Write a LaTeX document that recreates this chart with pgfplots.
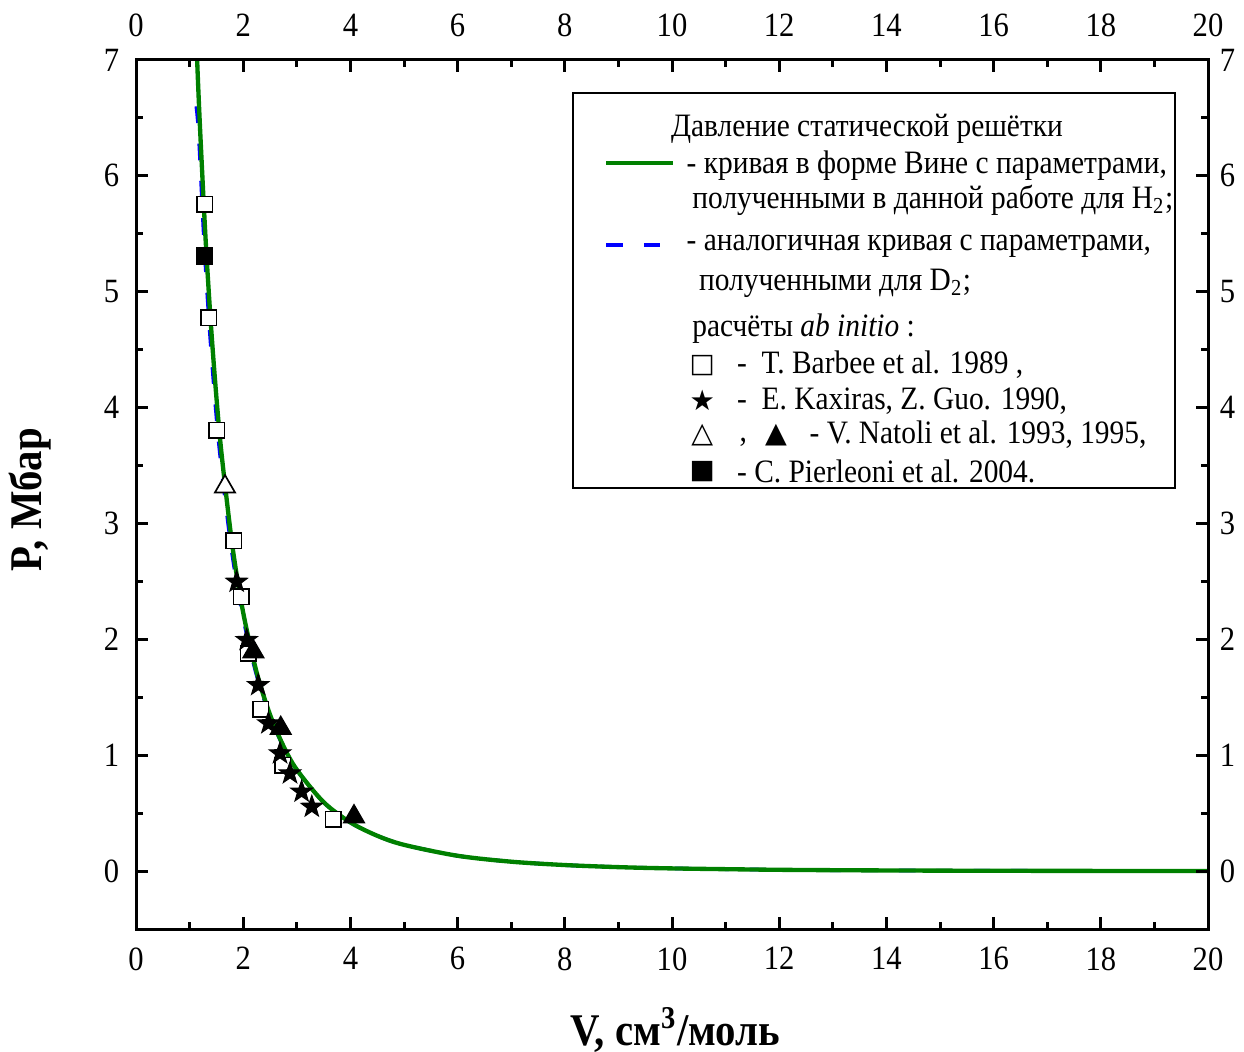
\documentclass[border=0pt]{standalone}
\usepackage{pgfplots}
\pgfplotsset{compat=1.18}
\usepackage{fontspec}
\setmainfont{Liberation Serif}[FakeStretch=0.9]
\newfontfamily\symfont{DejaVu Sans}
\definecolor{vgreen}{RGB}{0,128,0}

\pgfdeclareplotmark{fstar}{%
  \pgfpathmoveto{\pgfqpointpolar{90}{\pgfplotmarksize}}%
  \pgfpathlineto{\pgfqpointpolar{126}{0.40\pgfplotmarksize}}%
  \pgfpathlineto{\pgfqpointpolar{162}{\pgfplotmarksize}}%
  \pgfpathlineto{\pgfqpointpolar{198}{0.40\pgfplotmarksize}}%
  \pgfpathlineto{\pgfqpointpolar{234}{\pgfplotmarksize}}%
  \pgfpathlineto{\pgfqpointpolar{270}{0.40\pgfplotmarksize}}%
  \pgfpathlineto{\pgfqpointpolar{306}{\pgfplotmarksize}}%
  \pgfpathlineto{\pgfqpointpolar{342}{0.40\pgfplotmarksize}}%
  \pgfpathlineto{\pgfqpointpolar{18}{\pgfplotmarksize}}%
  \pgfpathlineto{\pgfqpointpolar{54}{0.40\pgfplotmarksize}}%
  \pgfpathclose
  \pgfusepathqfillstroke
}

\pgfplotstableread{
V P
1.10 7.50
1.15 6.89
1.20 6.36
1.30 5.44
1.40 4.70
1.50 4.09
1.60 3.585
1.80 2.80
2.00 2.23
2.25 1.717
2.50 1.350
2.75 1.080
3.00 0.875
3.50 0.595
4.00 0.420
4.50 0.305
5.00 0.2265
6.00 0.132
7.00 0.081
8.00 0.052
9.00 0.034
10.0 0.023
12.0 0.011
14.0 0.0054
16.0 0.0027
18.0 0.0013
20.0 0.0005
}\greencurve

\pgfplotstableread{
V P
1.125 6.60
1.17 6.36
1.27 5.44
1.37 4.70
1.47 4.09
1.57 3.585
1.775 2.80
1.98 2.23
2.235 1.717
2.49 1.35
2.745 1.08
3.00 0.873
3.50 0.594
4.00 0.419
4.50 0.305
5.00 0.2265
6.00 0.132
7.00 0.081
8.00 0.052
9.00 0.034
10.0 0.023
12.0 0.011
14.0 0.0054
16.0 0.0027
18.0 0.0013
20.0 0.0005
}\bluecurve

\pgfplotstableread{
V P
1.287 5.757
1.356 4.776
1.511 3.806
1.828 2.851
1.959 2.368
2.095 1.879
2.326 1.398
2.737 0.915
3.681 0.449
}\barbee

\pgfplotstableread{
V P
1.878 2.497
2.065 1.994
2.280 1.605
2.470 1.275
2.687 1.016
2.873 0.843
3.090 0.685
3.280 0.555
}\kaxiras

\pgfplotstableread{
V P
1.660 3.317
}\natolia

\pgfplotstableread{
V P
2.190 1.893
2.700 1.232
4.067 0.469
}\natolib

\pgfplotstableread{
V P
1.275 5.308
}\pierleoni

\begin{document}
\begin{tikzpicture}
\pgfplotsset{
  myframe/.style={
    scale only axis, width=321.6pt, height=260.7pt,
    xmin=0, xmax=20, ymin=-0.5, ymax=7,
    xtick={0,2,...,20}, ytick={0,1,...,7},
    minor x tick num=1, minor y tick num=1,
    tick align=inside,
    major tick length=3.6pt, minor tick length=2pt,
    every tick/.style={black, line width=0.9pt},
    axis line style={line width=0.9pt},
    tick label style={font=\fontsize{10.2}{12}\selectfont},
    /pgf/number format/assume math mode=true,
  }
}
\begin{axis}[myframe,
  xticklabel style={yshift=-2pt},
  yticklabel style={xshift=-1.5pt},
  xlabel={\bfseries V, см\textsuperscript{3}/моль},
  ylabel={\bfseries P, Мбар},
  xlabel style={font=\fontsize{13.6}{15}\selectfont, at={(axis description cs:0.503,-0.1162)}, anchor=center},
  ylabel style={font=\fontsize{13.6}{15}\selectfont, at={(axis description cs:-0.0989,0.494)}, anchor=center, rotate=0},
]
\coordinate (BL) at (rel axis cs:0,0);
\coordinate (TR) at (rel axis cs:1,1);

\addplot[blue, line width=1.1pt, dash pattern=on 5pt off 6.2pt, smooth, no marks] table[x=V,y=P] {\bluecurve};
\addplot[vgreen, line width=1.3pt, smooth, no marks] table[x=V,y=P] {\greencurve};

\addplot[only marks, mark=square*, mark size=2.3pt, mark options={fill=white, draw=black, line width=0.5pt}] table[x=V,y=P] {\barbee};
\addplot[only marks, mark=fstar, mark size=3.4pt, mark options={fill=black, draw=black, line width=0.3pt}] table[x=V,y=P] {\kaxiras};
\addplot[only marks, mark=triangle*, mark size=3.5pt, mark options={fill=white, draw=black, line width=0.5pt}] table[x=V,y=P] {\natolia};
\addplot[only marks, mark=triangle*, mark size=3.6pt, mark options={fill=black, draw=black}] table[x=V,y=P] {\natolib};
\addplot[only marks, mark=square*, mark size=2.4pt, mark options={fill=black, draw=black}] table[x=V,y=P] {\pierleoni};

% legend box
\draw[line width=0.5pt, fill=white] (axis cs:8.15,3.306) rectangle (axis cs:19.38,6.715);
\begin{scope}[every node/.style={font=\fontsize{9.8}{11}\selectfont, inner sep=0pt}]
\node[anchor=west] at (axis cs:9.970,6.410) {Давление статической решётки};
\node[anchor=west] at (axis cs:8.765,6.113) {\textcolor{vgreen}{\rule{19.9pt}{1.3pt}}};
\node[anchor=west] at (axis cs:10.261,6.085) {- кривая в форме Вине с параметрами,};
\node[anchor=west] at (axis cs:10.369,5.792) {полученными в данной работе для H\textsubscript{2};};
\node[anchor=west] at (axis cs:8.765,5.403) {\textcolor{blue}{\rule{5pt}{1.3pt}\hspace{6.2pt}\rule{5pt}{1.3pt}}};
\node[anchor=west] at (axis cs:10.261,5.388) {- аналогичная кривая с параметрами,};
\node[anchor=west] at (axis cs:10.493,5.072) {полученными для D\textsubscript{2};};
\node[anchor=west] at (axis cs:10.369,4.684) {расчёты \textit{ab initio} :};
\node at (axis cs:10.565,4.367) {\symfont\fontsize{8}{9}\selectfont □};
\node[anchor=west] at (axis cs:11.203,4.367) {-\ \ T. Barbee et al. 1989 ,};
\node at (axis cs:10.565,4.059) {\symfont\fontsize{8.5}{9}\selectfont ★};
\node[anchor=west] at (axis cs:11.203,4.059) {-\ \ E. Kaxiras, Z. Guo. 1990,};
\node at (axis cs:10.565,3.763) {\symfont\fontsize{8.5}{9}\selectfont △};
\node[anchor=west] at (axis cs:11.25,3.70) {,};
\node at (axis cs:11.94,3.763) {\symfont\fontsize{8.5}{9}\selectfont ▲};
\node[anchor=west] at (axis cs:12.556,3.763) {- V. Natoli et al. 1993, 1995,};
\node at (axis cs:10.565,3.446) {\symfont\fontsize{8}{9}\selectfont ■};
\node[anchor=west] at (axis cs:11.203,3.446) {- C. Pierleoni et al. 2004.};
\end{scope}
\end{axis}

\begin{axis}[myframe,
  xticklabel pos=right, yticklabel pos=right,
  xticklabel style={yshift=3.5pt},
]
\end{axis}

\pgfresetboundingbox
\path ([shift={(-40.8pt,-36.6pt)}]BL) rectangle ([shift={(10.8pt,18pt)}]TR);
\end{tikzpicture}
\end{document}
